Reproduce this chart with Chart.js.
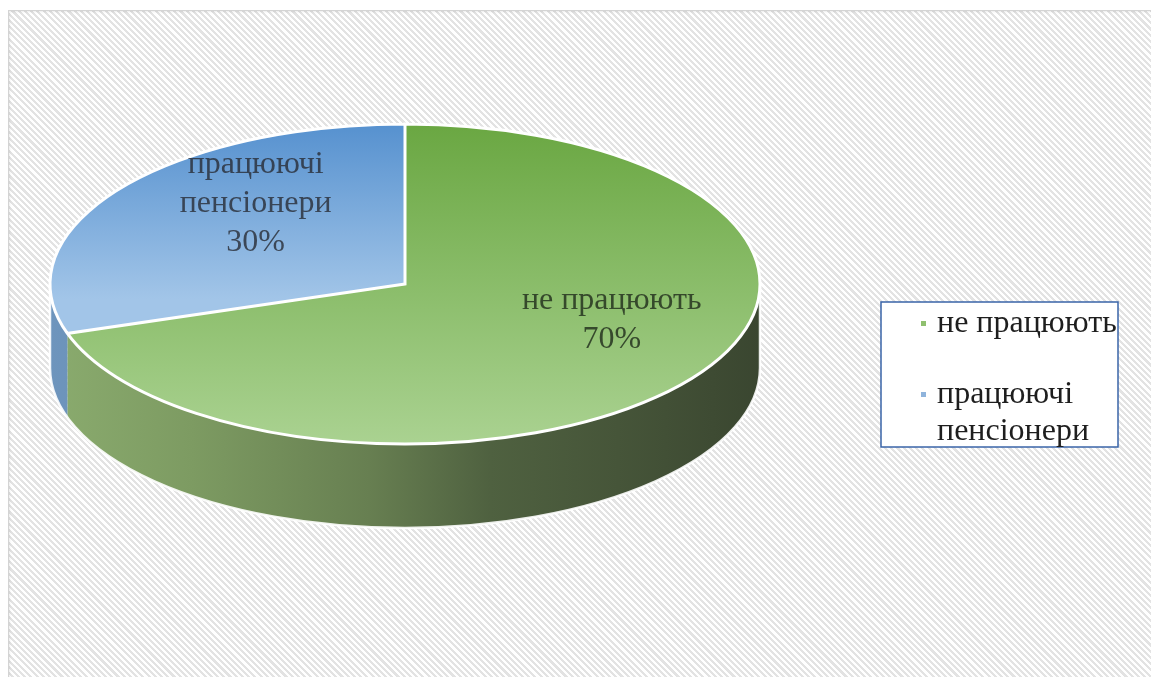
<!DOCTYPE html>
<html>
<head>
<meta charset="utf-8">
<script src="https://cdn.jsdelivr.net/npm/chart.js@4.4.1/dist/chart.umd.min.js"></script>
<style>
  html, body { margin: 0; padding: 0; background: #ffffff; }
  #stage { position: relative; width: 1151px; height: 677px; overflow: hidden; }
  #panel {
    position: absolute; left: 8px; top: 10px; width: 1143px; height: 667px;
    border-top: 1px solid #d4d4d4; border-left: 1px solid #d4d4d4;
    box-shadow: inset 1px 1px 2px rgba(0,0,0,0.08);
    background: repeating-linear-gradient(45deg, #ffffff 0px, #ffffff 2.2px, #e3e3e3 2.2px, #e3e3e3 4.4px);
  }
  #chart { position: absolute; left: 0; top: 0; }
</style>
</head>
<body>
<div id="stage">
  <div id="panel"></div>
  <canvas id="chart" width="1151" height="677"></canvas>
</div>
<script>
// Categories (each split into the lines it is printed on) and their shares, %
const categoryLines = [['не працюють'], ['працюючі', 'пенсіонери']];
const categories = categoryLines.map(l => l.join(' '));
const shares = [70, 30];

// Top-face gradients (top colour, bottom colour) and side colours per slice
const topColors = [['#6aa742', '#aad291'], ['#5691cf', '#a2c5e8']];
const legendMarks = ['#8fc06f', '#8fb4dc'];

const ASPECT = 355 / 160;   // horizontal stretch of the tilted disc
const DEPTH = 84;           // thickness of the disc

function geom(chart) {
  const arcs = chart.getDatasetMeta(0).data;
  const a = arcs[0];
  return { arcs, cx: a.x, cy: a.y, r: a.outerRadius, rx: a.outerRadius * ASPECT };
}

const tiltedPie = {
  id: 'tiltedPie',
  beforeDatasetsDraw(chart) {
    const ctx = chart.ctx;
    const g = geom(chart);
    // side wall: visible front half of every slice
    const sideGrad = [
      (() => {
        const s = ctx.createLinearGradient(g.cx - g.rx, 0, g.cx + g.rx, 0);
        s.addColorStop(0, '#8aab6e');
        s.addColorStop(0.2, '#7d9b62');
        s.addColorStop(0.45, '#677f51');
        s.addColorStop(0.62, '#4f6140');
        s.addColorStop(0.8, '#465539');
        s.addColorStop(1, '#3a4630');
        return s;
      })(),
      (() => {
        const s = ctx.createLinearGradient(g.cx - g.rx, 0, g.cx + g.rx, 0);
        s.addColorStop(0, '#6e95bd');
        s.addColorStop(1, '#3c5878');
        return s;
      })()
    ];
    g.arcs.forEach((el, i) => {
      const lo = Math.max(el.startAngle, 0);
      const hi = Math.min(el.endAngle, Math.PI);
      if (hi <= lo) return;
      ctx.save();
      ctx.beginPath();
      ctx.ellipse(g.cx, g.cy, g.rx, g.r, 0, lo, hi, false);
      ctx.ellipse(g.cx, g.cy + DEPTH, g.rx, g.r, 0, hi, lo, true);
      ctx.closePath();
      ctx.fillStyle = sideGrad[i];
      ctx.fill();
      ctx.restore();
    });
    // light rim along the lower edge of the wall
    ctx.save();
    ctx.beginPath();
    ctx.moveTo(g.cx + g.rx, g.cy);
    ctx.ellipse(g.cx, g.cy + DEPTH, g.rx, g.r, 0, 0, Math.PI, false);
    ctx.lineTo(g.cx - g.rx, g.cy);
    ctx.strokeStyle = 'rgba(255,255,255,0.9)';
    ctx.lineWidth = 2.5;
    ctx.stroke();
    ctx.restore();
    // stretch the disc horizontally for the top face
    ctx.save();
    ctx.translate(g.cx, g.cy);
    ctx.scale(ASPECT, 1);
    ctx.translate(-g.cx, -g.cy);
  },
  afterDatasetsDraw(chart, args, opts) {
    const ctx = chart.ctx;
    const g = geom(chart);
    // build slice outlines in stretched space, stroke with an even pen
    ctx.beginPath();
    g.arcs.forEach(el => {
      ctx.moveTo(g.cx, g.cy);
      ctx.arc(g.cx, g.cy, g.r, el.startAngle, el.endAngle);
      ctx.closePath();
    });
    ctx.restore();
    ctx.save();
    ctx.strokeStyle = '#ffffff';
    ctx.lineWidth = 3;
    ctx.lineJoin = 'miter';
    ctx.stroke();
    ctx.restore();

    // data labels
    ctx.save();
    ctx.font = '32px "Liberation Serif", "Times New Roman", serif';
    ctx.textAlign = 'center';
    ctx.textBaseline = 'middle';
    const lh = 39;
    g.arcs.forEach((el, i) => {
      const mid = (el.startAngle + el.endAngle) / 2;
      const f = opts.radial[i];
      const x = g.cx + Math.cos(mid) * g.rx * f;
      const y = g.cy + Math.sin(mid) * g.r * f + opts.lift;
      const lines = categoryLines[i].concat([chart.data.datasets[0].data[i] + '%']);
      ctx.fillStyle = opts.colors[i];
      lines.forEach((t, k) => {
        ctx.fillText(t, x, y + (k - (lines.length - 1) / 2) * lh);
      });
    });
    ctx.restore();
  },
  afterDraw(chart, args, opts) {
    // legend box
    const ctx = chart.ctx;
    const b = opts.legend;
    ctx.save();
    ctx.fillStyle = '#ffffff';
    ctx.fillRect(b.x, b.y, b.w, b.h);
    ctx.strokeStyle = '#3a64a8';
    ctx.lineWidth = 1.5;
    ctx.strokeRect(b.x, b.y, b.w, b.h);
    ctx.font = '32px "Liberation Serif", "Times New Roman", serif';
    ctx.textAlign = 'left';
    ctx.textBaseline = 'middle';
    let y = b.y + 22;
    categoryLines.forEach((lines, i) => {
      ctx.fillStyle = legendMarks[i];
      ctx.fillRect(b.x + 40, y - 3, 5, 5);
      ctx.fillStyle = '#1e1e1e';
      lines.forEach((t, k) => {
        ctx.fillText(t, b.x + 56, y + k * 37);
      });
      y += 71;
    });
    ctx.restore();
  }
};

function sliceFill(ctx) {
  const chart = ctx.chart;
  const area = chart.chartArea;
  if (!area) return topColors[ctx.dataIndex][0];
  const c = chart.ctx;
  const i = ctx.dataIndex;
  const top = area.top;
  const bottom = i === 0 ? area.bottom : (area.top + area.bottom) / 2 + 15;
  const gr = c.createLinearGradient(0, top, 0, bottom);
  gr.addColorStop(0, topColors[i][0]);
  gr.addColorStop(1, topColors[i][1]);
  return gr;
}

new Chart(document.getElementById('chart'), {
  type: 'pie',
  data: {
    labels: categories,
    datasets: [{
      data: shares,
      backgroundColor: sliceFill,
      borderWidth: 0,
      hoverOffset: 0,
      offset: 0
    }]
  },
  options: {
    responsive: false,
    animation: false,
    events: [],
    layout: { padding: { left: 50, right: 391, top: 124, bottom: 233 } },
    plugins: {
      legend: { display: false },
      tooltip: { enabled: false },
      tiltedPie: {
        radial: [0.72, 0.52],
        lift: -32,
        colors: ['rgba(38,52,32,0.85)', 'rgba(40,44,52,0.8)'],
        legend: { x: 881, y: 302, w: 237, h: 145 }
      }
    }
  },
  plugins: [tiltedPie]
});
</script>
</body>
</html>
